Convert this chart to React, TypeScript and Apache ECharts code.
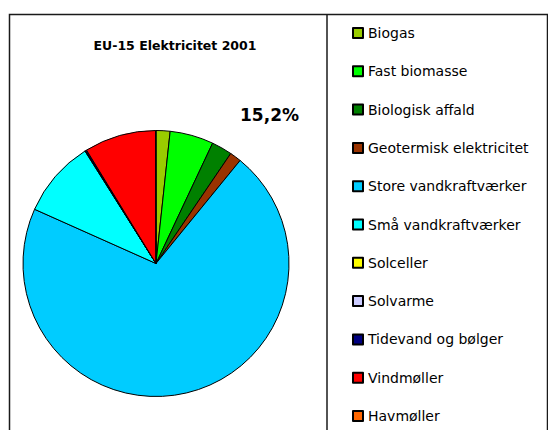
import React, { useEffect, useRef } from "react";
import * as echarts from "echarts";

const categories = [
  "Biogas",
  "Fast biomasse",
  "Biologisk affald",
  "Geotermisk elektricitet",
  "Store vandkraftværker",
  "Små vandkraftværker",
  "Solceller",
  "Solvarme",
  "Tidevand og bølger",
  "Vindmøller",
  "Havmøller",
];
const values = [1.7, 5.3, 2.5, 1.4, 70.8, 9.35, 0.06, 0.01, 0.15, 8.7, 0.05];
const colors = [
  "#99CC00",
  "#00FF00",
  "#008000",
  "#993300",
  "#00CCFF",
  "#00FFFF",
  "#FFFF00",
  "#CCCCFF",
  "#000080",
  "#FF0000",
  "#FF6600",
];
const titleText = "EU-15 Elektricitet 2001";
const shareText = "15,2%";

export default function App() {
  const ref = useRef<HTMLDivElement>(null);
  useEffect(() => {
    if (!ref.current) return;
    const chart = echarts.init(ref.current, null, { renderer: "svg" });
    chart.setOption({
      animation: false,
      backgroundColor: "#ffffff",
      legend: {
        orient: "vertical",
        left: 352,
        top: 26,
        padding: 0,
        itemWidth: 10,
        itemHeight: 10,
        itemGap: 24.3,
        icon: "rect",
        selectedMode: false,
        data: categories,
        textStyle: {
          color: "#000000",
          fontFamily: "DejaVu Sans",
          fontSize: 14,
          lineHeight: 14,
        },
      },
      graphic: [
        {
          type: "rect",
          shape: { x: 9.5, y: 14.5, width: 538, height: 440 },
          style: { fill: "none", stroke: "#1a1a1a", lineWidth: 1.5 },
          silent: true,
        },
        {
          type: "line",
          shape: { x1: 327, y1: 14.5, x2: 327, y2: 440 },
          style: { stroke: "#1a1a1a", lineWidth: 1.5 },
          silent: true,
        },
        {
          type: "text",
          x: 175,
          y: 45.5,
          style: {
            text: titleText,
            fill: "#000000",
            font: "bold 12.5px 'DejaVu Sans'",
            textAlign: "center",
            textVerticalAlign: "middle",
          },
          silent: true,
        },
        {
          type: "text",
          x: 299,
          y: 115,
          style: {
            text: shareText,
            fill: "#000000",
            font: "bold 17px 'DejaVu Sans'",
            textAlign: "right",
            textVerticalAlign: "middle",
          },
          silent: true,
        },
      ],
      series: [
        {
          type: "pie",
          center: [156, 263.5],
          radius: [0, 133],
          startAngle: 90,
          clockwise: true,
          minAngle: 0,
          label: { show: false },
          labelLine: { show: false },
          emphasis: { disabled: true },
          itemStyle: { borderColor: "#000000", borderWidth: 1 },
          data: categories.map((name, i) => ({
            name,
            value: values[i],
            itemStyle: { color: colors[i] },
          })),
        },
      ],
    });
    return () => chart.dispose();
  }, []);
  return (
    <div
      ref={ref}
      style={{ position: "absolute", left: 0, top: 0, width: 548, height: 430 }}
    />
  );
}
